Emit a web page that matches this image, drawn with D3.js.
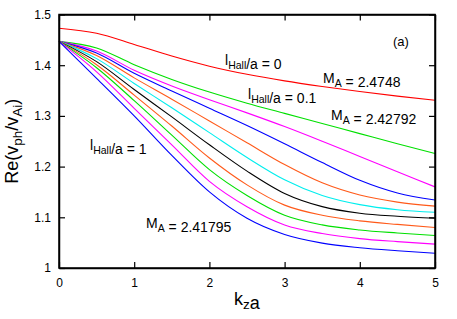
<!DOCTYPE html>
<html>
<head>
<meta charset="utf-8">
<script src="https://cdn.jsdelivr.net/npm/d3@7"></script>
<style>
  body { margin: 0; background: #fff; }
  text { font-family: "Liberation Sans", Arial, sans-serif; }
</style>
</head>
<body>
<div class="chart"></div>
<script>
// k_z a sample points
var kza = [0, 0.5, 1, 1.5, 2, 2.5, 3, 3.5, 4, 4.5, 5];

// one curve per l_Hall/a = 0, 0.1, ... 1
var curve00 = [1.473, 1.463, 1.441, 1.418, 1.398, 1.382, 1.369, 1.358, 1.348, 1.339, 1.331];
var curve01 = [1.447, 1.434, 1.401, 1.372, 1.347, 1.325, 1.305, 1.285, 1.265, 1.245, 1.226];
var curve02 = [1.447, 1.428, 1.390, 1.359, 1.332, 1.306, 1.279, 1.250, 1.220, 1.190, 1.160];
var curve03 = [1.447, 1.424, 1.384, 1.349, 1.315, 1.281, 1.245, 1.208, 1.173, 1.148, 1.134];
var curve04 = [1.447, 1.419, 1.375, 1.333, 1.290, 1.247, 1.204, 1.168, 1.144, 1.130, 1.122];
var curve05 = [1.447, 1.413, 1.364, 1.316, 1.267, 1.218, 1.174, 1.143, 1.125, 1.115, 1.110];
var curve06 = [1.447, 1.407, 1.352, 1.298, 1.243, 1.191, 1.147, 1.121, 1.108, 1.102, 1.098];
var curve07 = [1.447, 1.401, 1.341, 1.280, 1.217, 1.164, 1.124, 1.104, 1.093, 1.086, 1.080];
var curve08 = [1.447, 1.395, 1.330, 1.262, 1.194, 1.143, 1.104, 1.085, 1.075, 1.069, 1.064];
var curve09 = [1.447, 1.387, 1.315, 1.243, 1.171, 1.121, 1.085, 1.068, 1.058, 1.052, 1.047];
var curve10 = [1.447, 1.374, 1.300, 1.222, 1.150, 1.098, 1.066, 1.049, 1.040, 1.034, 1.029];

var curves = [curve00, curve01, curve02, curve03, curve04, curve05, curve06, curve07, curve08, curve09, curve10];
var colors = ['#ff0000', '#00e000', '#ff00ff', '#0000ff', '#ff5a1a', '#00eeee', '#000000', '#ff5a1a', '#00e000', '#ff00ff', '#0000ff'];

var xTicks = [0, 1, 2, 3, 4, 5];
var yTicks = [1, 1.1, 1.2, 1.3, 1.4, 1.5];

var W = 457, H = 319;
var m = {left: 59, right: 22, top: 14.5, bottom: 51};

var svg = d3.select('.chart').append('svg').attr('width', W).attr('height', H);

var x = d3.scaleLinear().domain([0, 5]).range([m.left, W - m.right]);
var y = d3.scaleLinear().domain([1, 1.5]).range([H - m.bottom, m.top]);

var line = d3.line()
  .x(function(d, i) { return x(kza[i]); })
  .y(function(d) { return y(d); })
  .curve(d3.curveMonotoneX);

svg.append('g').selectAll('path').data(curves).enter()
  .append('path')
  .attr('d', line)
  .attr('fill', 'none')
  .attr('stroke', function(d, i) { return colors[i]; })
  .attr('stroke-width', 1.1);

// axes, ticks inward, mirrored on top and right
var tk = 6;
svg.append('g').attr('transform', 'translate(0,' + y(1) + ')')
  .call(d3.axisBottom(x).tickValues(xTicks).tickSizeInner(-tk).tickSizeOuter(0).tickPadding(10).tickFormat(d3.format('d')));
svg.append('g').attr('transform', 'translate(0,' + y(1.5) + ')')
  .call(d3.axisTop(x).tickValues(xTicks).tickSizeInner(-tk).tickSizeOuter(0).tickFormat(''));
svg.append('g').attr('transform', 'translate(' + x(0) + ',0)')
  .call(d3.axisLeft(y).tickValues(yTicks).tickSizeInner(-tk).tickSizeOuter(0).tickPadding(8).tickFormat(function(d) { return d3.format('~g')(d); }));
svg.append('g').attr('transform', 'translate(' + x(5) + ',0)')
  .call(d3.axisRight(y).tickValues(yTicks).tickSizeInner(-tk).tickSizeOuter(0).tickFormat(''));

svg.selectAll('.domain').attr('stroke', '#000').attr('stroke-width', 1.5);
svg.selectAll('.tick line').attr('stroke', '#000').attr('stroke-width', 1.2);
svg.selectAll('.tick text').attr('font-size', 12).attr('fill', '#000')
  .style('font-family', '"Liberation Sans", Arial, sans-serif');

// frame
svg.append('rect')
  .attr('x', x(0)).attr('y', y(1.5))
  .attr('width', x(5) - x(0)).attr('height', y(1) - y(1.5))
  .attr('fill', 'none').attr('stroke', '#000').attr('stroke-width', 1.5);

function label(px, py, parts, size) {
  var t = svg.append('text').attr('x', px).attr('y', py).attr('font-size', size).attr('fill', '#000');
  parts.forEach(function(p) {
    t.append('tspan').attr('dy', p[1] ? 4 : 0).attr('font-size', p[1] ? size * 0.75 : size).text(p[0]);
    if (p[1]) t.append('tspan').attr('dy', -4).text('');
  });
  return t;
}

label(225, 65, [['l'], ['Hall', 1], ['/a = 0']], 14);
label(248, 99, [['l'], ['Hall', 1], ['/a = 0.1']], 14);
label(90, 150, [['l'], ['Hall', 1], ['/a = 1']], 14);
label(323, 83, [['M'], ['A', 1], [' = 2.4748']], 14);
label(331, 120, [['M'], ['A', 1], [' = 2.42792']], 14);
label(146, 228, [['M'], ['A', 1], [' = 2.41795']], 14);
label(393, 46, [['(a)']], 13);

// axis titles
var xl = label(0, 305, [['k'], ['z', 1], ['a']], 18);
xl.attr('x', x(2.5)).attr('text-anchor', 'middle');

var yl = svg.append('text').attr('font-size', 18).attr('fill', '#000')
  .attr('text-anchor', 'middle')
  .attr('transform', 'translate(18,' + ((y(1) + y(1.5)) / 2) + ') rotate(-90)');
yl.append('tspan').text('Re(v');
yl.append('tspan').attr('dy', 4).attr('font-size', 13.5).text('ph');
yl.append('tspan').attr('dy', -4).text('/v');
yl.append('tspan').attr('dy', 4).attr('font-size', 13.5).text('Ai');
yl.append('tspan').attr('dy', -4).text(')');
</script>
</body>
</html>
